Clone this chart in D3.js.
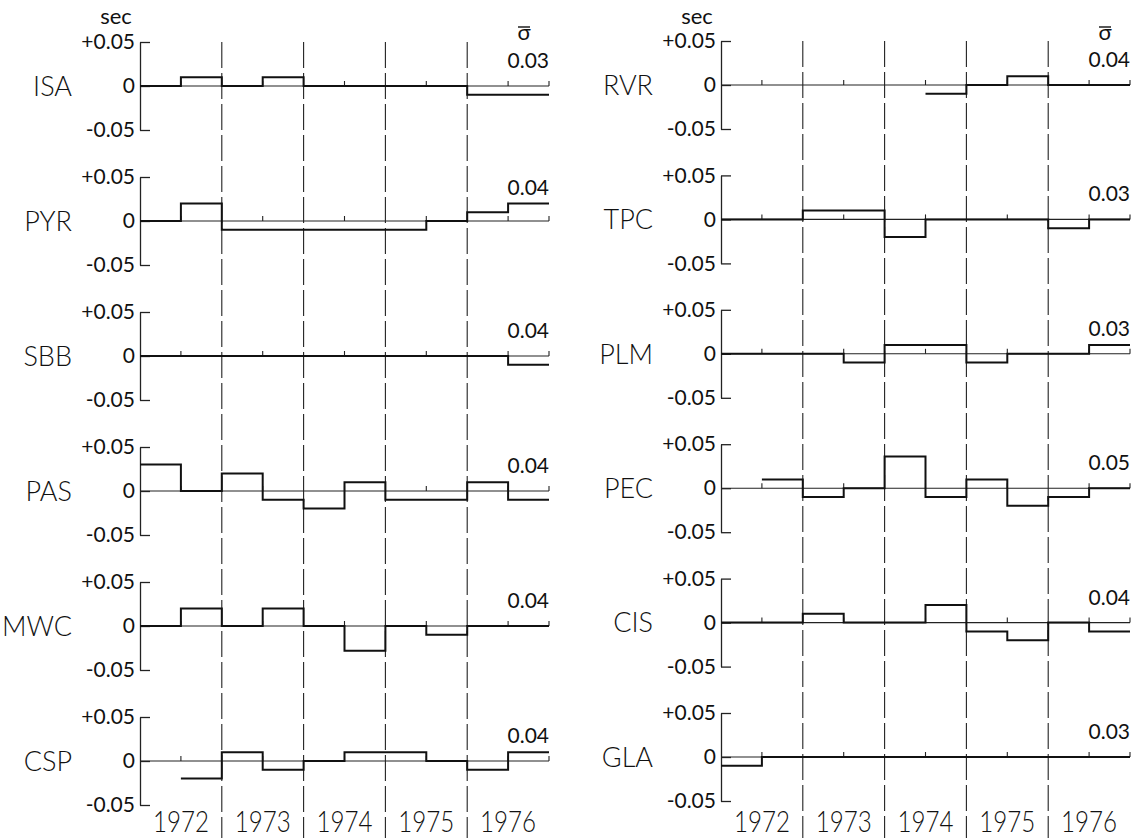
<!DOCTYPE html>
<html>
<head>
<meta charset="utf-8">
<script src="https://cdn.jsdelivr.net/npm/d3@7"></script>
<style>
  body { margin: 0; background: #fff; }
  text { font-family: Lato, "DejaVu Sans", sans-serif; font-weight: 400; fill: #111; }
</style>
</head>
<body>
<div class="chart"></div>
<script>
// half-year residuals (sec), 1972.0 ... 1976.5 ; null = no data
var ISA = [0, 0.01, 0, 0.01, 0, 0, 0, 0, -0.01, -0.01];
var PYR = [0, 0.02, -0.01, -0.01, -0.01, -0.01, -0.01, 0, 0.01, 0.02];
var SBB = [0, 0, 0, 0, 0, 0, 0, 0, 0, -0.01];
var PAS = [0.03, 0, 0.02, -0.01, -0.02, 0.01, -0.01, -0.01, 0.01, -0.01];
var MWC = [0, 0.02, 0, 0.02, 0, -0.028, 0, -0.01, 0, 0];
var CSP = [null, -0.02, 0.01, -0.01, 0, 0.01, 0.01, 0, -0.01, 0.01];

var RVR = [null, null, null, null, null, -0.01, 0, 0.01, 0, 0];
var TPC = [0, 0, 0.01, 0.01, -0.02, 0, 0, 0, -0.01, 0];
var PLM = [0, 0, 0, -0.01, 0.01, 0.01, -0.01, 0, 0, 0.01];
var PEC = [null, 0.01, -0.01, 0, 0.036, -0.01, 0.01, -0.02, -0.01, 0];
var CIS = [0, 0, 0.01, 0, 0, 0.02, -0.01, -0.02, 0, -0.01];
var GLA = [-0.01, 0, 0, 0, 0, 0, 0, 0, 0, 0];

var leftStations = ["ISA", "PYR", "SBB", "PAS", "MWC", "CSP"];
var rightStations = ["RVR", "TPC", "PLM", "PEC", "CIS", "GLA"];
var leftSigma = ["0.03", "0.04", "0.04", "0.04", "0.04", "0.04"];
var rightSigma = ["0.04", "0.03", "0.03", "0.05", "0.04", "0.03"];
var years = [1972, 1973, 1974, 1975, 1976];
var halfYears = [1972, 1972.5, 1973, 1973.5, 1974, 1974.5, 1975, 1975.5, 1976, 1976.5];
var yTicks = [-0.05, 0, 0.05];

var series = {ISA: ISA, PYR: PYR, SBB: SBB, PAS: PAS, MWC: MWC, CSP: CSP,
              RVR: RVR, TPC: TPC, PLM: PLM, PEC: PEC, CIS: CIS, GLA: GLA};

var svg = d3.select(".chart").append("svg")
    .attr("width", 1141)
    .attr("height", 838);

var columns = [
  {x0: 140, z0: 86, dz: 135, names: leftStations, sigma: leftSigma},
  {x0: 721, z0: 85, dz: 134.4, names: rightStations, sigma: rightSigma}
];

var W = 409, H = 44;

columns.forEach(function(c) {
  var x = d3.scaleLinear().domain([1972, 1977]).range([c.x0, c.x0 + W]);
  var col = svg.append("g");

  // year separators
  col.selectAll("line.year")
    .data(years.slice(1))
    .enter().append("line")
      .attr("class", "year")
      .attr("x1", d => x(d)).attr("x2", d => x(d))
      .attr("y1", c.z0 - H).attr("y2", 838)
      .style("stroke", "#222")
      .style("stroke-width", 1.1)
      .style("stroke-dasharray", "26,5");

  col.selectAll("text.yr")
    .data(years)
    .enter().append("text")
      .attr("class", "yr")
      .attr("x", d => x(d + 0.5))
      .attr("y", 832)
      .attr("text-anchor", "middle")
      .attr("textLength", 56)
      .attr("lengthAdjust", "spacingAndGlyphs")
      .style("font-size", "29px")
      .style("font-weight", 300)
      .text(d => d);

  c.names.forEach(function(name, r) {
    var zero = c.z0 + r * c.dz;
    var y = d3.scaleLinear().domain([-0.05, 0.05]).range([zero + H, zero - H]);
    var g = col.append("g");
    var vals = series[name];

    // zero line
    g.append("line")
      .attr("x1", x(1972)).attr("x2", x(1977))
      .attr("y1", y(0)).attr("y2", y(0))
      .style("stroke", "#222").style("stroke-width", 1.1);

    // half-year ticks
    g.selectAll("line.tk")
      .data(halfYears.filter(d => d % 1 != 0).concat([1977]))
      .enter().append("line")
        .attr("class", "tk")
        .attr("x1", d => x(d)).attr("x2", d => x(d))
        .attr("y1", y(0)).attr("y2", y(0) - 5)
        .style("stroke", "#222").style("stroke-width", 1.1);

    // bracket axis
    var ax = g.append("g")
      .attr("transform", "translate(" + c.x0 + ",0)")
      .call(d3.axisLeft(y).tickValues(yTicks).tickSizeInner(-10).tickSizeOuter(0).tickPadding(5)
        .tickFormat(v => v > 0 ? "+0.05" : (v < 0 ? "-0.05" : "0")));
    ax.selectAll("path, line").style("stroke", "#222").style("stroke-width", 1.3);
    ax.selectAll("text")
      .style("font-family", "Lato, 'DejaVu Sans', sans-serif")
      .style("font-size", "21px")
      .style("fill", "#111");

    // step residuals
    var pts = halfYears.map((t, i) => [t, vals[i]]);
    pts.push([1977, vals[vals.length - 1]]);
    var line = d3.line()
      .defined(d => d[1] !== null)
      .x(d => x(d[0]))
      .y(d => y(d[1]))
      .curve(d3.curveStepAfter);
    g.append("path")
      .attr("d", line(pts))
      .style("fill", "none")
      .style("stroke", "#111")
      .style("stroke-width", 2);

    // station label
    g.append("text")
      .attr("x", c.x0 - 68)
      .attr("y", zero)
      .attr("dy", "0.36em")
      .attr("text-anchor", "end")
      .style("font-size", "27px")
      .style("font-weight", 300)
      .text(name);

    // sigma value, kept clear of the last steps
    var top = d3.max(vals.slice(-2));
    g.append("text")
      .attr("x", x(1977))
      .attr("y", Math.min(zero - 18, y(top) - 8))
      .attr("text-anchor", "end")
      .style("font-size", "21px")
      .text(c.sigma[r]);

    if (r == 0) {
      g.append("text")
        .attr("x", c.x0 - 24)
        .attr("y", 24)
        .attr("text-anchor", "middle")
        .style("font-size", "22px")
        .text("sec");
      g.append("text")
        .attr("x", x(1977) - 25)
        .attr("y", 40)
        .attr("text-anchor", "middle")
        .style("font-size", "22px")
        .text("σ");
      g.append("line")
        .attr("x1", x(1977) - 31).attr("x2", x(1977) - 19)
        .attr("y1", 27).attr("y2", 27)
        .style("stroke", "#111").style("stroke-width", 1.4);
    }
  });
});
</script>
</body>
</html>
